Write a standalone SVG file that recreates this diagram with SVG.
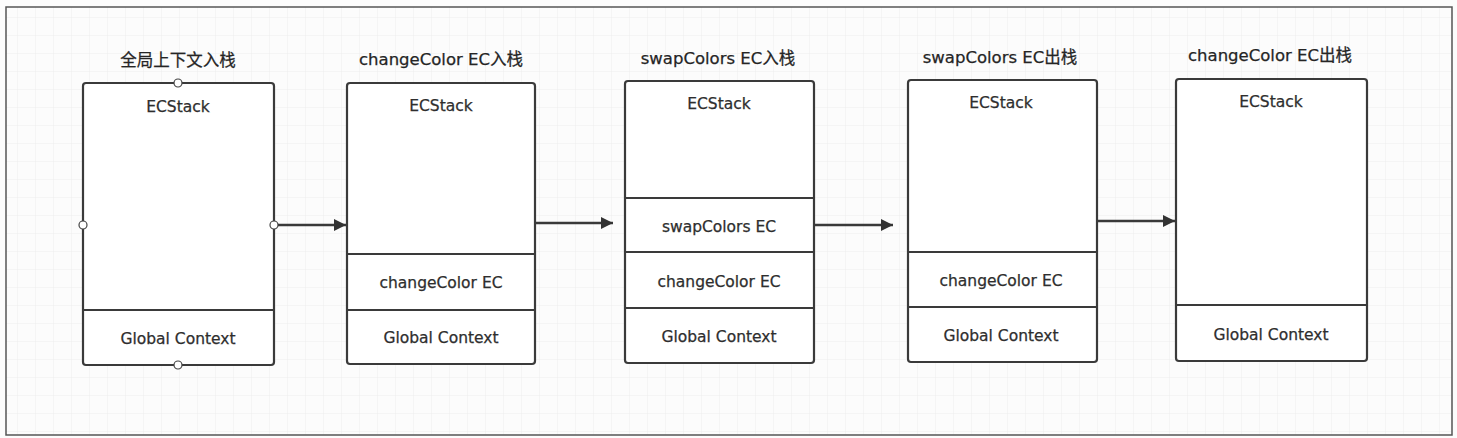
<svg xmlns="http://www.w3.org/2000/svg" width="1457" height="438" viewBox="0 0 1457 438">
<style>
.box{fill:#fff;stroke:#3a3a3a;stroke-width:2.2}
.div{stroke:#3a3a3a;stroke-width:2.2}
.t{font-family:"DejaVu Sans","Noto Sans CJK SC",sans-serif;font-size:15.5px;fill:#2e2e2e;text-anchor:middle;stroke:#2e2e2e;stroke-width:0.25}
.title{font-family:"DejaVu Sans","Noto Sans CJK SC",sans-serif;font-size:16.5px;fill:#252525;text-anchor:middle;stroke:#252525;stroke-width:0.25}
.conn{stroke:#3a3a3a;stroke-width:2.4;fill:none}
.h{fill:#fff;stroke:#444;stroke-width:1.2}
</style>
<defs>
<pattern id="grid" width="18" height="18" patternUnits="userSpaceOnUse">
<path d="M18 0V18M0 18H18" fill="none" stroke="#eeeeee" stroke-width="1"/>
</pattern>
<marker id="arr" viewBox="0 0 10 10" refX="10" refY="5" markerWidth="18" markerHeight="12" markerUnits="userSpaceOnUse" orient="auto">
<path d="M0 0L10 5L0 10Z" fill="#333"/>
</marker>
</defs>
<rect x="0" y="0" width="1457" height="438" fill="#fcfcfc"/>
<rect x="6" y="7" width="1446" height="428" fill="url(#grid)" stroke="#555" stroke-width="1.5"/>

<g id="node1">
<text class="title" x="178" y="66">全局上下文入栈</text>
<rect class="box" x="83" y="83" width="191" height="282" rx="3"/>
<line class="div" x1="83" y1="310" x2="274" y2="310"/>
<text class="t" x="178" y="112">ECStack</text>
<text class="t" x="178" y="344">Global Context</text>
<circle class="h" cx="178" cy="83" r="4"/>
<circle class="h" cx="178" cy="365" r="4"/>
<circle class="h" cx="83" cy="225" r="4"/>
<circle class="h" cx="274" cy="225" r="4"/>
</g>

<g id="node2">
<text class="title" x="441" y="65">changeColor EC入栈</text>
<rect class="box" x="347" y="83" width="188" height="281" rx="3"/>
<line class="div" x1="347" y1="254" x2="535" y2="254"/>
<line class="div" x1="347" y1="310" x2="535" y2="310"/>
<text class="t" x="441" y="111">ECStack</text>
<text class="t" x="441" y="288">changeColor EC</text>
<text class="t" x="441" y="343">Global Context</text>
</g>

<g id="node3">
<text class="title" x="718" y="64">swapColors EC入栈</text>
<rect class="box" x="625" y="81" width="189" height="282" rx="3"/>
<line class="div" x1="625" y1="198" x2="814" y2="198"/>
<line class="div" x1="625" y1="252" x2="814" y2="252"/>
<line class="div" x1="625" y1="308" x2="814" y2="308"/>
<text class="t" x="719" y="109">ECStack</text>
<text class="t" x="719" y="232">swapColors EC</text>
<text class="t" x="719" y="287">changeColor EC</text>
<text class="t" x="719" y="342">Global Context</text>
</g>

<g id="node4">
<text class="title" x="1000" y="63">swapColors EC出栈</text>
<rect class="box" x="908" y="80" width="189" height="282" rx="3"/>
<line class="div" x1="908" y1="252" x2="1097" y2="252"/>
<line class="div" x1="908" y1="307" x2="1097" y2="307"/>
<text class="t" x="1001" y="108">ECStack</text>
<text class="t" x="1001" y="286">changeColor EC</text>
<text class="t" x="1001" y="341">Global Context</text>
</g>

<g id="node5">
<text class="title" x="1270" y="61">changeColor EC出栈</text>
<rect class="box" x="1176" y="79" width="191" height="282" rx="3"/>
<line class="div" x1="1176" y1="305" x2="1367" y2="305"/>
<text class="t" x="1271" y="107">ECStack</text>
<text class="t" x="1271" y="340">Global Context</text>
</g>

<g id="connectors">
<line class="conn" x1="278" y1="225" x2="346" y2="225" marker-end="url(#arr)"/>
<line class="conn" x1="536" y1="223" x2="613" y2="223" marker-end="url(#arr)"/>
<line class="conn" x1="815" y1="225" x2="893" y2="225" marker-end="url(#arr)"/>
<line class="conn" x1="1098" y1="221" x2="1175" y2="221" marker-end="url(#arr)"/>
</g>
</svg>
